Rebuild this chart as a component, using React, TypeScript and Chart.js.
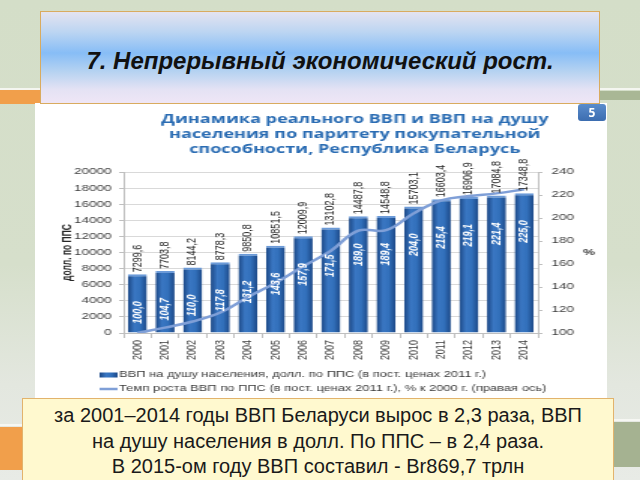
import React, { useEffect, useRef } from "react";
import { Chart, registerables } from "chart.js";

Chart.register(...registerables);

// ---------- data ----------
const years = ["2000", "2001", "2002", "2003", "2004", "2005", "2006", "2007", "2008", "2009", "2010", "2011", "2012", "2013", "2014"];
const gdpPerCapita = [7299.6, 7703.8, 8144.2, 8778.3, 9850.8, 10851.5, 12009.9, 13102.8, 14487.8, 14548.8, 15703.1, 16603.4, 16906.9, 17084.8, 17348.8];
const growthIndex = [100.0, 104.7, 110.0, 117.8, 131.2, 143.6, 157.9, 171.5, 189.0, 189.4, 204.0, 215.4, 219.1, 221.4, 225.0];
const leftAxisMin = 0;
const leftAxisMax = 20000;
const leftAxisStep = 2000;
const rightAxisMin = 100;
const rightAxisMax = 240;
const rightAxisStep = 20;
const chartTitleLines = [
  "Динамика реального ВВП и ВВП на душу",
  "населения по паритету покупательной",
  "способности, Республика Беларусь",
];
const legendLabels = [
  "ВВП на душу населения, долл. по ППС (в пост. ценах 2011 г.)",
  "Темп роста ВВП по ППС (в пост. ценах 2011 г.), % к 2000 г. (правая ось)",
];
const leftAxisTitle = "долл. по ППС";
const rightAxisTitle = "%";
const slideTitle = "7. Непрерывный экономический рост.";
const noteLines = [
  "за 2001–2014 годы ВВП Беларуси вырос в 2,3 раза, ВВП",
  "на душу населения в долл. По ППС – в 2,4 раза.",
  "В 2015-ом году ВВП составил - Br869,7 трлн",
];

// ---------- styles ----------
const SANS = "'Liberation Sans', Arial, sans-serif";
const LINE_COLOR = "#7f9fd7";
const TICK_COLOR = "#404040";
const fmt = (v: number) => v.toFixed(1).replace(".", ",");

const STRETCH = 1.5;
const CANVAS_W = 572;
const CANVAS_H = 294;

function barGradient(ctx: CanvasRenderingContext2D, x0: number, x1: number) {
  const g = ctx.createLinearGradient(x0, 0, x1, 0);
  g.addColorStop(0, "#1b4785");
  g.addColorStop(0.35, "#3a77c3");
  g.addColorStop(0.65, "#3270bb");
  g.addColorStop(1, "#1c4887");
  return g;
}

const decorPlugin = {
  id: "decor",
  afterDatasetsDraw(chart: any) {
    const ctx: CanvasRenderingContext2D = chart.ctx;
    const meta = chart.getDatasetMeta(0);
    meta.data.forEach((el: any, i: number) => {
      const { x, y } = el.getProps(["x", "y"], true);
      ctx.save();
      ctx.translate(x, y - 2);
      ctx.rotate(-Math.PI / 2);
      ctx.font = `9px ${SANS}`;
      ctx.fillStyle = "#262626";
      ctx.textAlign = "left";
      ctx.textBaseline = "middle";
      ctx.fillText(fmt(gdpPerCapita[i]), 0, 0);
      ctx.restore();

      ctx.save();
      ctx.translate(x, y + 27);
      ctx.rotate(-Math.PI / 2);
      ctx.font = `italic bold 9px ${SANS}`;
      ctx.fillStyle = "#ffffff";
      ctx.textAlign = "right";
      ctx.textBaseline = "middle";
      ctx.fillText(fmt(growthIndex[i]), 0, 0);
      ctx.restore();
    });
  },
  afterDraw(chart: any) {
    const ctx: CanvasRenderingContext2D = chart.ctx;
    const ca = chart.chartArea;
    ctx.save();
    // chart title
    ctx.font = `bold 12px 'Open Sans', sans-serif`;
    ctx.fillStyle = "#2a6cb3";
    ctx.textAlign = "center";
    ctx.textBaseline = "middle";
    const cx = (ca.left + ca.right) / 2 + 16;
    chartTitleLines.forEach((t, k) => ctx.fillText(t, cx, 16 + k * 15));
    // right axis unit
    ctx.font = `bold 9px ${SANS}`;
    ctx.fillStyle = TICK_COLOR;
    ctx.fillText(rightAxisTitle, ca.right + 34, (ca.top + ca.bottom) / 2);
    // legend
    const lx = ca.left - 16;
    const ly1 = ca.bottom + 42;
    const ly2 = ly1 + 14;
    ctx.fillStyle = barGradient(ctx, lx, lx + 12);
    ctx.fillRect(lx, ly1 - 2.5, 12, 5);
    ctx.strokeStyle = LINE_COLOR;
    ctx.lineWidth = 2.5;
    ctx.beginPath();
    ctx.moveTo(lx, ly2);
    ctx.lineTo(lx + 12, ly2);
    ctx.stroke();
    ctx.font = `8.6px ${SANS}`;
    ctx.fillStyle = "#3a3a3a";
    ctx.textAlign = "left";
    ctx.fillText(legendLabels[0], lx + 13, ly1);
    ctx.fillText(legendLabels[1], lx + 13, ly2);
    ctx.restore();
  },
};

function GdpChart() {
  const ref = useRef<HTMLCanvasElement | null>(null);
  useEffect(() => {
    if (!ref.current) return;
    const tickFont = { family: SANS, size: 9 };
    const chart = new Chart(ref.current, {
      type: "bar",
      data: {
        labels: years,
        datasets: [
          {
            type: "bar",
            label: legendLabels[0],
            data: gdpPerCapita,
            yAxisID: "y",
            order: 2,
            barPercentage: 0.69,
            categoryPercentage: 1,
            backgroundColor: (c: any) => {
              const ch = c.chart;
              if (!ch.chartArea || c.dataIndex === undefined) return "#2e64ad";
              const xs = ch.scales.x;
              const cx = xs.getPixelForValue(c.dataIndex);
              const half = (xs.width / years.length) * 0.69 / 2;
              return barGradient(ch.ctx, cx - half, cx + half);
            },
            borderColor: "#6b9ad8",
            borderWidth: { top: 2, left: 0, right: 0, bottom: 0 },
            borderSkipped: false,
          } as any,
          {
            type: "line",
            label: legendLabels[1],
            data: growthIndex,
            yAxisID: "y1",
            order: 1,
            borderColor: LINE_COLOR,
            borderWidth: 2.5,
            tension: 0.4,
            pointRadius: 0,
            fill: false,
          } as any,
        ],
      },
      options: {
        responsive: false,
        animation: false,
        events: [],
        layout: { padding: { top: 68, left: 17, right: 0, bottom: 33 } },
        plugins: {
          legend: { display: false },
          title: { display: false },
          tooltip: { enabled: false },
        },
        scales: {
          x: {
            offset: true,
            grid: { display: true, drawOnChartArea: false, drawTicks: true, tickLength: 5, color: "#bfbfbf", offset: true },
            border: { color: "#bfbfbf" },
            ticks: { minRotation: 90, maxRotation: 90, autoSkip: false, padding: 2, font: tickFont, color: TICK_COLOR },
            afterFit: (s: any) => { s.height = 32; },
          },
          y: {
            position: "left",
            min: leftAxisMin,
            max: leftAxisMax,
            ticks: { stepSize: leftAxisStep, callback: (v: any) => String(v), padding: 5, font: tickFont, color: TICK_COLOR },
            grid: { color: "#d9d9d9", tickColor: "#bfbfbf", tickLength: 3, drawTicks: true },
            border: { color: "#bfbfbf" },
            title: { display: true, text: leftAxisTitle, font: { family: SANS, size: 8.5, weight: "bold" }, color: "#262626", padding: 0 },
            afterFit: (s: any) => { s.width = 42; },
          },
          y1: {
            position: "right",
            min: rightAxisMin,
            max: rightAxisMax,
            ticks: { stepSize: rightAxisStep, padding: 6, font: tickFont, color: TICK_COLOR },
            grid: { drawOnChartArea: false, drawTicks: true, tickLength: 3, color: "#bfbfbf" },
            border: { color: "#bfbfbf" },
            afterFit: (s: any) => { s.width = 46; },
          },
        },
      } as any,
      plugins: [decorPlugin],
    });
    return () => chart.destroy();
  }, []);

  return (
    <canvas
      ref={ref}
      width={Math.round(CANVAS_W / STRETCH)}
      height={CANVAS_H}
      style={{ position: "absolute", left: 35, top: 104, width: CANVAS_W, height: CANVAS_H }}
    />
  );
}

export default function App() {
  const abs = (o: React.CSSProperties): React.CSSProperties => ({ position: "absolute", ...o });
  return (
    <div
      style={{
        position: "fixed",
        left: 0,
        top: 0,
        width: 640,
        height: 480,
        overflow: "hidden",
        background: "linear-gradient(to bottom, #d4dec8 0%, #d6dfcb 55%, #e3e7df 80%, #e8ebe6 100%)",
        fontFamily: SANS,
      }}
    >
      {/* decorative bands */}
      <div style={abs({ left: 0, top: 88, width: 40, height: 2, background: "#f4f6f0" })} />
      <div style={abs({ left: 0, top: 90, width: 40, height: 14, background: "#f19f4b" })} />
      <div style={abs({ left: 596, top: 88, width: 44, height: 2, background: "#f4f6f0" })} />
      <div style={abs({ left: 596, top: 91, width: 44, height: 9, background: "#a9b795" })} />
      <div style={abs({ left: 0, top: 424, width: 30, height: 2, background: "#f6f7f3" })} />
      <div style={abs({ left: 0, top: 427, width: 30, height: 43, background: "#f19f4b" })} />
      <div style={abs({ left: 605, top: 419, width: 35, height: 2, background: "#f6f7f3" })} />
      <div style={abs({ left: 605, top: 422, width: 35, height: 45, background: "#a5b291" })} />

      {/* white chart panel */}
      <div style={abs({ left: 35, top: 103, width: 572, height: 296, background: "#ffffff" })} />
      <GdpChart />
      <div
        style={abs({
          left: 578,
          top: 104,
          width: 28,
          height: 17,
          borderRadius: 3,
          background: "linear-gradient(to bottom, #5a8ccc, #3c6db0)",
          color: "#ffffff",
          font: "bold 12px 'Open Sans', sans-serif",
          textAlign: "center",
          lineHeight: "17px",
        })}
      >
        5
      </div>

      {/* slide title */}
      <div
        style={abs({
          left: 40,
          top: 11,
          width: 560,
          height: 93,
          boxSizing: "border-box",
          border: "1.5px solid #d9ab5f",
          background:
            "linear-gradient(to bottom, #e4e3f0 0%, #bcd5f2 22%, #87bdf6 45%, #b7d3f1 66%, #e4e2f4 85%, #efe6f6 100%)",
          display: "flex",
          alignItems: "center",
          justifyContent: "center",
          paddingTop: 6,
          font: `italic bold 24px ${SANS}`,
          color: "#111111",
        })}
      >
        {slideTitle}
      </div>

      {/* bottom note */}
      <div
        style={abs({
          left: 22,
          top: 398,
          width: 592,
          height: 95,
          boxSizing: "border-box",
          border: "1px solid #e2b36c",
          background: "#fff9cf",
          textAlign: "center",
          font: `20px ${SANS}`,
          lineHeight: "25.5px",
          paddingTop: 4,
          color: "#1a1a1a",
        })}
      >
        {noteLines.map((l, i) => (
          <div key={i}>{l}</div>
        ))}
      </div>
    </div>
  );
}
